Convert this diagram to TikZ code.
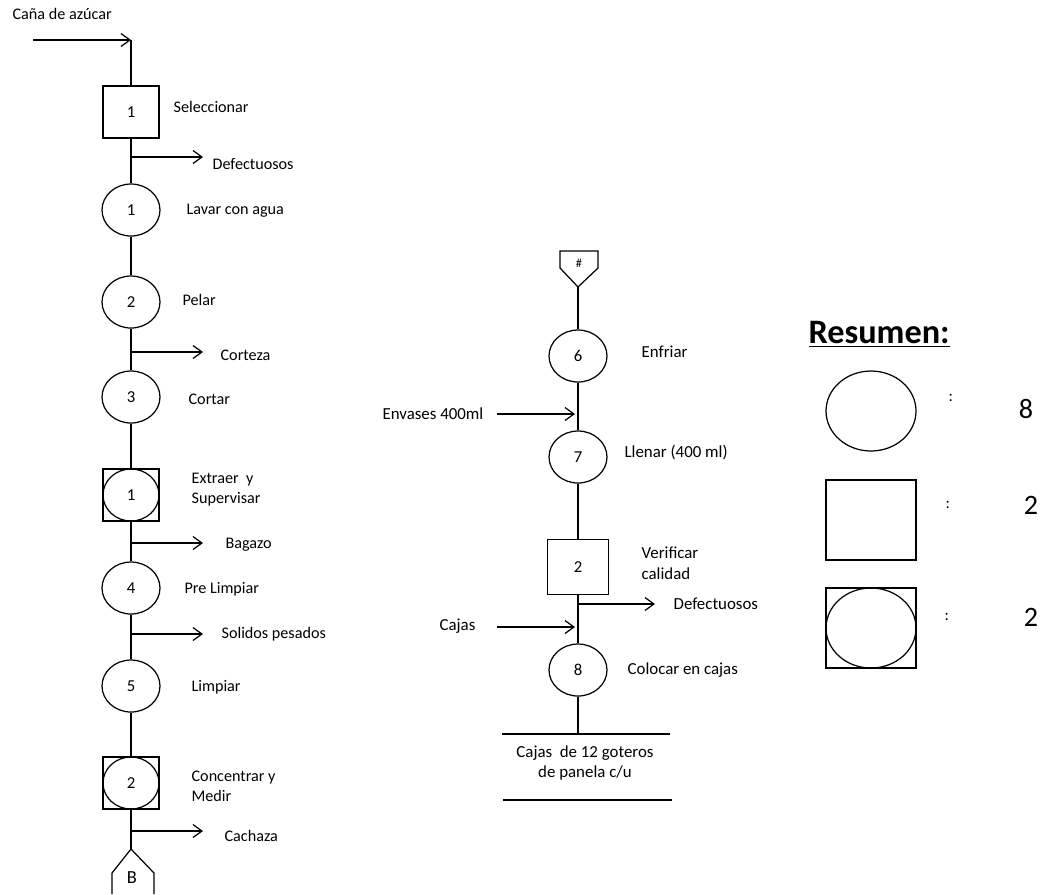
\documentclass[tikz,border=0pt]{standalone}
\usepackage{fontspec}
\setmainfont{Carlito}
\usetikzlibrary{shapes.geometric,arrows.meta}

\begin{document}
\begin{tikzpicture}[x=0.02cm,y=-0.02cm,line width=0.7pt,
    >={Straight Barb[length=1.8mm,width=2.6mm]},
    oper/.style={draw,ellipse,minimum width=1.16cm,minimum height=1.04cm,inner sep=0pt,font=\fontsize{9.5}{11}\selectfont},
    insp/.style={draw,rectangle,minimum width=1.12cm,minimum height=1.04cm,inner sep=0pt,font=\fontsize{9.5}{11}\selectfont},
    comb/.style={draw,ellipse,minimum width=1.12cm,minimum height=1.04cm,inner sep=0pt,font=\fontsize{9.5}{11}\selectfont},
    txt/.style={anchor=west,inner sep=0pt,align=left,font=\fontsize{9.2}{11.3}\selectfont},
    bigtxt/.style={inner sep=0pt,font=\fontsize{16}{18}\selectfont}]
		\useasboundingbox (0,0) rectangle (1043,894);
		% columna izquierda
		\node[txt] (cana) at (12,14) {Caña de azúcar};
		\coordinate (in0) at (33,40);
		\coordinate (in1) at (131,40);
		\node[insp] (s1) at (131,112) {1};
		\node[txt] at (173,107) {Seleccionar};
		\node[oper] (o1) at (131,210) {1};
		\node[txt] at (186,211) {Lavar con agua};
		\node[oper] (o2) at (131,302) {2};
		\node[txt] at (182,300) {Pelar};
		\node[oper] (o3) at (131,397) {3};
		\node[txt] at (188,399) {Cortar};
		\node[insp] (c1) at (131,495) {};
		\node[comb] at (c1) {1};
		\node[txt] at (191,490) {Extraer~ y\\Supervisar};
		\node[oper] (o4) at (131,588) {4};
		\node[txt] at (184,589) {Pre Limpiar};
		\node[oper] (o5) at (131,686) {5};
		\node[txt] at (191,687) {Limpiar};
		\node[insp] (c2) at (131,783) {};
		\node[comb] at (c2) {2};
		\node[txt] at (191,786) {Concentrar y\\Medir};
		\coordinate (pB) at (131,849);
		\node[font=\fontsize{10.5}{12}\selectfont] (B) at (132,878) {B};
		\draw[->] (in0) -- (in1);
		\draw (in1) -- (s1);
		\draw (s1) -- (o1) -- (o2) -- (o3) -- (c1) -- (o4) -- (o5) -- (c2) -- (pB);
		\draw (112,894) -- (112,873) -- (pB) -- (154,873) -- (154,894);
		% salidas
		\coordinate (d1) at (131,157); \coordinate (d1e) at (203,157);
		\coordinate (d2) at (131,352); \coordinate (d2e) at (203,352);
		\coordinate (d3) at (131,543); \coordinate (d3e) at (203,543);
		\coordinate (d4) at (131,634); \coordinate (d4e) at (203,634);
		\coordinate (d5) at (131,831); \coordinate (d5e) at (203,831);
		\draw[->] (d1) -- (d1e);
		\draw[->] (d2) -- (d2e);
		\draw[->] (d3) -- (d3e);
		\draw[->] (d4) -- (d4e);
		\draw[->] (d5) -- (d5e);
		\node[txt] at (212,164) {Defectuosos};
		\node[txt] at (220,355) {Corteza};
		\node[txt] at (225,545) {Bagazo};
		\node[txt] at (221,634) {Solidos pesados};
		\node[txt] at (224,836) {Cachaza};
		% columna central
		\coordinate (h) at (578,287);
		\draw (560,251) -- (598,251) -- (598,268) -- (h) -- (560,268) -- cycle;
		\node[font=\fontsize{7}{8}\selectfont] (hs) at (579,263) {\#};
		\node[oper] (o6) at (578,356) {6};
		\node[txt,font=\fontsize{9.6}{12}\selectfont] at (641,352) {Enfriar};
		\node[oper] (o7) at (578,457) {7};
		\node[txt,font=\fontsize{9.6}{12}\selectfont] at (624,452) {Llenar (400 ml)};
		\node[insp,minimum width=1.22cm,minimum height=1.1cm] (s2) at (578,567) {2};
		\node[txt,font=\fontsize{9.6}{12}\selectfont] at (641,563) {Verificar\\calidad};
		\node[oper] (o8) at (578,670) {8};
		\node[txt,font=\fontsize{9.6}{12}\selectfont] at (627,670) {Colocar en cajas};
		\coordinate (fin) at (578,734);
		\draw (h) -- (o6) -- (o7) -- (s2) -- (o8) -- (fin);
		\coordinate (e1) at (497,414); \coordinate (e1e) at (575,414);
		\coordinate (e2) at (497,627); \coordinate (e2e) at (575,627);
		\coordinate (d6) at (578,604); \coordinate (d6e) at (655,604);
		\draw[->] (e1) -- (e1e);
		\draw[->] (e2) -- (e2e);
		\draw[->] (d6) -- (d6e);
		\node[txt,font=\fontsize{9.6}{12}\selectfont] at (382,414) {Envases 400ml};
		\node[txt,font=\fontsize{9.6}{12}\selectfont] at (439,626) {Cajas};
		\node[txt,font=\fontsize{9.6}{12}\selectfont] at (673,604) {Defectuosos};
		\draw (502,734) -- (670,734);
		\draw (503,800) -- (672,800);
		\node[inner sep=0pt,align=center,font=\fontsize{9.6}{11.8}\selectfont] (caja) at (585,763) {Cajas~ de 12 goteros\\de panela c/u};
		% resumen
		\node[anchor=west,inner sep=0pt,font=\bfseries\fontsize{19.5}{22}\selectfont] (res) at (808,334) {\underline{Resumen:}};
		\node[draw,ellipse,minimum width=1.8cm,minimum height=1.6cm] (r1) at (871,411) {};
		\node[draw,minimum width=1.8cm,minimum height=1.6cm] (r2) at (871,520) {};
		\node[draw,minimum width=1.8cm,minimum height=1.6cm] (r3) at (871,628) {};
		\node[draw,ellipse,minimum width=1.8cm,minimum height=1.6cm] at (r3) {};
		\node[txt] at (948,398) {:};
		\node[txt] at (945,505) {:};
		\node[txt] at (944,617) {:};
		\node[bigtxt] (n1) at (1026,409) {8};
		\node[bigtxt] (n2) at (1031,505) {2};
		\node[bigtxt] (n3) at (1031,617) {2};
\end{tikzpicture}
\end{document}
